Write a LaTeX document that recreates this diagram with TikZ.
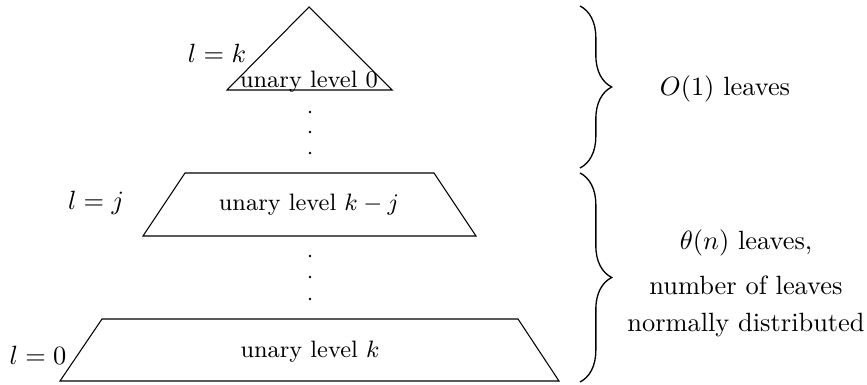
\documentclass[tikz,border=0pt]{standalone}
\usetikzlibrary{decorations.pathreplacing}
\begin{document}
\begin{tikzpicture}[x=0.3788pt,y=-0.3788pt,
  shapeline/.style={line width=0.4pt,line join=miter},
  unarytext/.style={font=\small,inner sep=0pt},
  lbl/.style={inner sep=0pt},
  dotmark/.style={fill=black,draw=none},
  bracestyle/.style={decorate,decoration={brace,amplitude=12pt,aspect=0.5},line width=0.5pt}]
\useasboundingbox (0,0) rectangle (867,385);
% top triangle
\coordinate (ta) at (309,7);
\coordinate (tl) at (227,90);
\coordinate (tr) at (392,90);
\draw[shapeline] (ta) -- (tl) -- (tr) -- cycle;
\node[unarytext] (t0) at (309,82) {unary level $0$};
\node[lbl] (lk) at (217,53) {$l=k$};
% dots 1
\foreach \yy in {112,132,153} {\fill[dotmark] (310,\yy) circle (1.4);}
% middle trapezoid
\coordinate (ma) at (185,173);
\coordinate (mb) at (434,173);
\coordinate (mc) at (476,236);
\coordinate (md) at (143,236);
\draw[shapeline] (ma) -- (mb) -- (mc) -- (md) -- cycle;
\node[unarytext] (tj) at (309,205) {unary level $k-j$};
\node[lbl] (lj) at (96,203) {$l=j$};
% dots 2
\foreach \yy in {256,277,299} {\fill[dotmark] (310,\yy) circle (1.4);}
% bottom trapezoid
\coordinate (ba) at (102,319);
\coordinate (bb) at (518,319);
\coordinate (bc) at (559,381);
\coordinate (bd) at (60,381);
\draw[shapeline] (ba) -- (bb) -- (bc) -- (bd) -- cycle;
\node[unarytext] (tk) at (310,352) {unary level $k$};
\node[lbl] (l0) at (38,355) {$l=0$};
% braces
\coordinate (b1s) at (580,6);
\coordinate (b1e) at (580,168);
\coordinate (b2s) at (580,173);
\coordinate (b2e) at (580,382);
\draw[bracestyle] (b1s) -- (b1e);
\draw[bracestyle] (b2s) -- (b2e);
\node[lbl] (o1) at (725,89) {$O(1)$ leaves};
\node[lbl,align=center] (th) at (746,283) {$\theta(n)$ leaves,\\[5pt] number of leaves\\[2pt] normally distributed};
\end{tikzpicture}
\end{document}
